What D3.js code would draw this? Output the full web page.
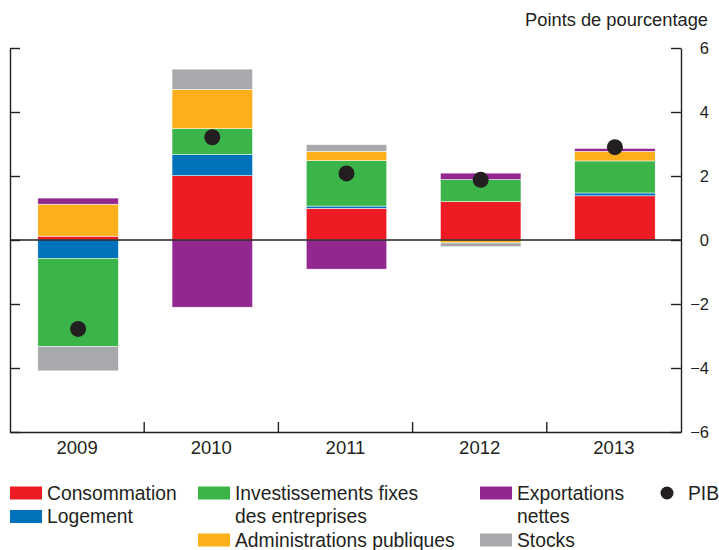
<!DOCTYPE html>
<html>
<head>
<meta charset="utf-8">
<script src="https://cdn.jsdelivr.net/npm/d3@7"></script>
<style>
  body { margin: 0; background: #fff; }
  text { font-family: "Liberation Sans", Arial, Helvetica, sans-serif; fill: #231f20; }
</style>
</head>
<body>
<div id="canvas"></div>
<script>
// data
const categories = ["2009", "2010", "2011", "2012", "2013"];
const consommation = [0.12, 2.01, 0.99, 1.20, 1.38];
const logement = [-0.57, 0.66, 0.07, 0, 0.09];
const investissements = [-2.76, 0.81, 1.42, 0.69, 1.00];
const administrations = [1.00, 1.23, 0.29, -0.09, 0.30];
const stocks = [-0.76, 0.63, 0.21, -0.12, 0];
const exportations = [0.19, -2.10, -0.91, 0.20, 0.09];
const pib = [-2.78, 3.21, 2.08, 1.88, 2.90];
const yTicks = [-6, -4, -2, 0, 2, 4, 6];

const series = [
  { key: "consommation", values: consommation, color: "#ed1c24" },
  { key: "logement", values: logement, color: "#0072bc" },
  { key: "investissements", values: investissements, color: "#3bb54a" },
  { key: "administrations", values: administrations, color: "#fbb01b" },
  { key: "stocks", values: stocks, color: "#a7a9ac" },
  { key: "exportations", values: exportations, color: "#92278f" }
];
const colorOf = {};
series.forEach(s => colorOf[s.key] = s.color);

const W = 719, H = 550;
const plotLeft = 10, plotRight = 681, plotTop = 48, plotBottom = 432;

const svg = d3.select("#canvas").append("svg")
  .attr("width", W)
  .attr("height", H);

// scales
const x = d3.scaleBand().domain(categories).range([plotLeft, plotRight]).padding(0);
const xBar = d3.scaleBand().domain(categories).range([plotLeft + 1, plotRight + 1])
  .paddingInner(0.4).paddingOuter(0.2);
const y = d3.scaleLinear().domain([-6, 6]).range([plotBottom, plotTop]);

// stacked table
const table = categories.map((c, i) => {
  const row = { cat: c };
  series.forEach(s => row[s.key] = s.values[i]);
  return row;
});
const stacked = d3.stack()
  .keys(series.map(s => s.key))
  .offset(d3.stackOffsetDiverging)(table);

// bars
svg.append("g").selectAll("g")
  .data(stacked)
  .join("g")
  .attr("fill", d => colorOf[d.key])
  .selectAll("rect")
  .data(d => d)
  .join("rect")
  .attr("x", d => xBar(d.data.cat))
  .attr("width", xBar.bandwidth())
  .attr("y", d => y(Math.max(d[0], d[1])))
  .attr("height", d => Math.abs(y(d[0]) - y(d[1])))
  .attr("stroke", "#fff")
  .attr("stroke-width", 0.5);

// zero line
svg.append("line")
  .attr("x1", plotLeft).attr("x2", plotRight)
  .attr("y1", y(0)).attr("y2", y(0))
  .attr("stroke", "#231f20")
  .attr("stroke-width", 1.4);

// left axis (ticks only)
const gl = svg.append("g")
  .attr("transform", "translate(" + plotLeft + ",0)")
  .call(d3.axisRight(y).tickValues(yTicks).tickSize(10).tickSizeOuter(0).tickFormat(""));
// right axis
const gr = svg.append("g")
  .attr("transform", "translate(" + plotRight + ",0)")
  .call(d3.axisRight(y).tickValues(yTicks).tickSizeInner(-10).tickSizeOuter(0).tickPadding(0));
gr.selectAll("text")
  .attr("x", 28)
  .attr("text-anchor", "end")
  .style("font-size", "16.5px");
[gl, gr].forEach(g => {
  g.selectAll("line, path").attr("stroke", "#231f20").attr("stroke-width", 1.4);
  g.attr("font-family", null).attr("font-size", null);
});

// bottom axis with separators between categories
const gb = svg.append("g")
  .attr("transform", "translate(0," + plotBottom + ")")
  .call(d3.axisBottom(x).tickSize(0).tickSizeOuter(0).tickPadding(9));
gb.attr("font-family", null).attr("font-size", null);
gb.select(".domain").attr("stroke", "#231f20").attr("stroke-width", 1.4);
gb.selectAll("text").style("font-size", "18.5px");
gb.selectAll(".sep")
  .data(categories.slice(1))
  .join("line")
  .attr("class", "sep")
  .attr("x1", d => x(d)).attr("x2", d => x(d))
  .attr("y1", 0).attr("y2", -10)
  .attr("stroke", "#231f20")
  .attr("stroke-width", 1.4);

// PIB dots
svg.append("g").selectAll("circle")
  .data(pib)
  .join("circle")
  .attr("cx", (d, i) => x(categories[i]) + x.bandwidth() / 2 + 1)
  .attr("cy", d => y(d))
  .attr("r", 8)
  .attr("fill", "#231f20");

// unit label
svg.append("text")
  .attr("x", 708).attr("y", 26)
  .attr("text-anchor", "end")
  .style("font-size", "18.3px")
  .text("Points de pourcentage");

// legend
const legendItems = [
  { key: "consommation", lines: ["Consommation"], x: 10, row: 0 },
  { key: "logement", lines: ["Logement"], x: 10, row: 1 },
  { key: "investissements", lines: ["Investissements fixes", "des entreprises"], x: 198, row: 0 },
  { key: "administrations", lines: ["Administrations publiques"], x: 198, row: 2 },
  { key: "exportations", lines: ["Exportations", "nettes"], x: 480, row: 0 },
  { key: "stocks", lines: ["Stocks"], x: 480, row: 2 }
];
const rowBase = [499.5, 523, 546.5];
const leg = svg.append("g");
legendItems.forEach(it => {
  const base = rowBase[it.row];
  leg.append("rect")
    .attr("x", it.x).attr("y", base - 13)
    .attr("width", 32).attr("height", 13)
    .attr("fill", colorOf[it.key]);
  it.lines.forEach((t, j) => {
    leg.append("text")
      .attr("x", it.x + 37)
      .attr("y", rowBase[it.row + j])
      .style("font-size", "19.3px")
      .text(t);
  });
});
leg.append("circle")
  .attr("cx", 667).attr("cy", 493)
  .attr("r", 6.5)
  .attr("fill", "#231f20");
leg.append("text")
  .attr("x", 688).attr("y", rowBase[0])
  .style("font-size", "19.3px")
  .text("PIB");
</script>
</body>
</html>
